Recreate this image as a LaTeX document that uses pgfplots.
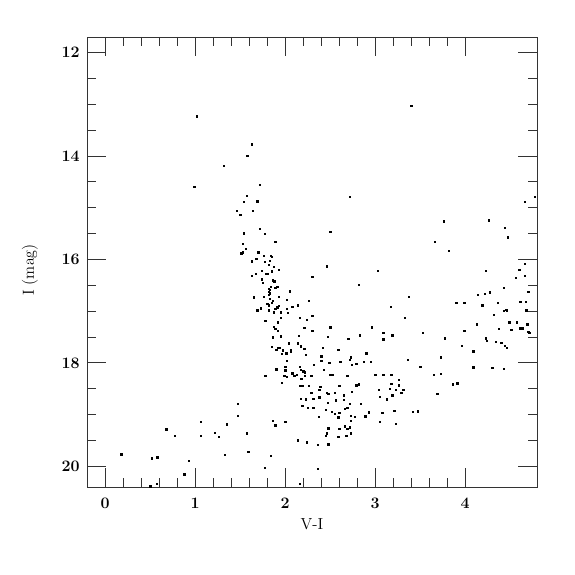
\documentclass[border=0pt]{standalone}
\usepackage{pgfplots}
\pgfplotsset{compat=1.18}
\begin{document}
\begin{tikzpicture}
\begin{axis}[
  width=337.5pt, height=337.5pt, scale only axis,
  xmin=-0.2, xmax=4.8, ymin=11.7, ymax=20.4,
  y dir=reverse,
  xtick={0,1,2,3,4}, ytick={12,14,16,18,20},
  minor x tick num=4, minor y tick num=3,
  tick align=inside, xtick pos=both, ytick pos=both,
  major tick length=14pt, minor tick length=7pt,
  axis line style={black!80, line width=0.6pt},
  every tick/.style={black!80, line width=0.6pt},
  ticklabel style={font=\large\boldmath},
  xticklabel style={yshift=-5pt},
  yticklabel style={xshift=-2pt},
  xlabel={V-I}, ylabel={I (mag)},
  every axis x label/.style={at={(axis description cs:0.5,-0.082)}, anchor=center, font=\large},
  every axis y label/.style={at={(axis description cs:-0.127,0.482)}, anchor=center, rotate=90, font=\large},
  clip=true,
]
\addplot[only marks, mark=square*, mark size=0.5pt, black, mark options={line width=0.1pt}] coordinates {
(1.02,13.23)(1.63,13.77)(1.58,13.99)(1.32,14.19)(0.99,14.59)(1.72,14.55)
(1.57,14.77)(1.54,14.88)(1.69,14.87)(1.46,15.05)(1.50,15.13)(1.64,15.05)
(1.54,15.49)(1.72,15.41)(1.77,15.50)(1.89,15.65)(1.53,15.70)(1.56,15.79)
(1.53,15.86)(1.51,15.88)(1.70,15.86)(1.76,15.92)(1.84,15.92)(1.85,15.94)(1.68,15.98)
(1.63,16.03)(1.77,16.04)(1.83,16.02)(1.82,16.10)(1.87,16.14)(1.93,16.19)
(1.74,16.22)(1.85,16.21)(1.85,16.24)(1.67,16.28)(1.63,16.31)(1.79,16.27)
(1.80,16.28)(2.30,16.33)(1.74,16.38)(1.86,16.40)(1.88,16.42)(1.75,16.45)
(1.84,16.52)(1.89,16.54)(1.91,16.52)(1.82,16.56)(1.83,16.58)(1.82,16.62)
(2.05,16.61)(1.83,16.65)(1.82,16.68)(1.65,16.73)(1.76,16.72)(1.83,16.76)
(1.86,16.79)(1.93,16.72)(2.02,16.78)(2.26,16.80)(1.80,16.86)(1.85,16.84)
(1.82,16.88)(1.93,16.89)(1.91,16.92)(1.89,16.95)(1.73,16.94)(1.69,16.98)
(2.14,16.88)(2.08,16.91)(2.02,16.95)(1.82,16.98)(1.87,17.02)(1.95,17.02)
(2.03,17.03)(2.16,17.12)(2.30,17.09)(1.95,17.13)(1.78,17.18)(1.92,17.21)
(2.24,17.16)(1.87,17.30)(2.21,17.32)(1.89,17.34)(1.92,17.37)(2.30,17.37)
(2.15,17.47)(1.95,17.48)(1.86,17.50)(2.14,17.62)(2.04,17.62)(2.17,17.66)
(2.17,17.69)(1.85,17.68)(1.92,17.71)(1.94,17.70)(1.90,17.74)(1.97,17.75)
(2.06,17.74)(2.06,17.77)(2.21,17.72)(1.96,17.82)(2.01,17.81)(2.23,17.84)
(2.02,17.95)(2.32,18.03)(2.00,18.07)(2.16,18.07)(1.90,18.12)(2.00,18.14)
(2.17,18.13)(2.20,18.16)(2.22,18.18)(2.08,18.20)(2.10,18.24)(2.13,18.22)
(1.99,18.24)(2.02,18.26)(1.78,18.25)(2.18,18.30)(2.22,18.25)(2.29,18.24)
(2.72,14.78)(2.50,15.46)(2.46,16.13)(2.82,16.48)(2.50,17.31)(2.47,17.49)
(2.70,17.53)(2.83,17.46)
(3.09,17.41)(3.19,17.46)(3.09,17.54)(2.42,17.71)(2.59,17.74)(2.90,17.81)
(2.40,17.87)(2.40,17.95)(2.49,18.00)(2.61,17.98)(2.73,17.89)(2.72,17.94)
(2.74,18.03)(2.79,18.01)(2.87,17.97)(2.95,17.97)(2.50,18.22)(2.53,18.22)
(2.43,18.13)(2.69,18.25)(3.00,18.22)(3.09,18.22)(3.18,18.22)(3.26,18.32)
(3.26,18.43)(3.18,18.40)(1.96,18.38)(2.16,18.44)(2.19,18.44)(2.26,18.44)
(2.39,18.46)(2.60,18.44)(2.79,18.43)(2.82,18.41)(2.74,18.55)(2.29,18.57)
(2.38,18.52)(2.46,18.57)(2.48,18.60)(2.55,18.58)(2.65,18.62)(3.04,18.51)
(3.16,18.50)(3.23,18.52)(3.19,18.62)(3.13,18.70)(3.05,18.65)(2.17,18.69)
(2.23,18.70)(2.31,18.69)(2.38,18.66)(2.47,18.77)(2.56,18.72)(2.65,18.71)
(2.72,18.79)(2.84,18.79)(2.19,18.83)(2.25,18.86)(2.31,18.86)(2.45,18.90)
(2.66,18.88)(2.69,18.86)(2.52,18.94)(2.60,18.96)(2.55,18.98)(2.73,19.02)
(2.77,19.04)(2.59,19.05)(2.37,19.04)(2.93,18.95)(2.89,19.03)(3.08,18.96)
(3.21,18.92)(3.05,19.14)(3.23,19.17)(2.73,19.11)(1.86,19.12)(1.89,19.20)
(2.00,19.14)(2.48,19.26)(2.66,19.22)(2.69,19.27)(2.72,19.24)(2.60,19.27)
(2.73,19.36)(2.46,19.36)(2.45,19.41)(2.59,19.42)(2.68,19.40)(2.14,19.49)
(2.24,19.53)(2.36,19.58)(2.48,19.57)(1.84,19.79)
(3.37,16.72)(3.17,16.91)(3.33,17.13)(2.96,17.31)(3.53,17.42)(3.77,17.52)
(3.36,17.93)(3.50,18.07)(3.73,17.89)(3.96,17.66)(4.09,17.77)(4.09,18.08)
(4.30,18.09)(4.43,18.11)(3.65,18.22)(3.73,18.21)(3.90,16.84)(3.99,16.84)
(4.14,16.68)(4.22,16.66)(4.27,16.63)(4.43,16.55)(4.70,16.62)(4.19,16.88)
(4.36,16.84)(4.61,16.81)(4.67,16.81)(4.32,17.06)(4.43,16.99)(4.45,16.97)
(4.46,16.98)(4.68,16.98)(4.13,17.25)(4.49,17.21)(4.57,17.21)(4.69,17.25)
(3.99,17.37)(4.37,17.34)(4.51,17.36)(4.61,17.33)(4.64,17.33)(4.70,17.40)
(4.71,17.42)(4.23,17.52)(4.24,17.57)(4.34,17.59)(4.40,17.61)(4.44,17.66)
(4.46,17.70)(3.31,18.52)(3.29,18.58)(3.42,18.94)(3.47,18.93)(3.69,18.60)
(3.86,18.41)(3.91,18.39)
(4.66,14.88)(4.77,14.79)(3.76,15.26)(4.26,15.24)(4.44,15.39)(4.47,15.57)
(3.66,15.65)(3.82,15.83)(3.03,16.22)(4.23,16.21)(4.66,16.08)(4.60,16.20)
(4.66,16.31)(4.56,16.35)(3.40,13.03)
(0.18,19.76)(0.52,19.84)(0.58,19.82)(0.68,19.28)(0.77,19.41)(0.57,20.33)
(0.50,20.38)(0.88,20.15)(0.93,19.89)(1.06,19.14)(1.06,19.40)(1.22,19.35)
(1.26,19.43)(1.35,19.18)(1.47,18.79)(1.47,19.02)(1.57,19.36)(1.59,19.71)
(1.33,19.77)(1.77,20.03)(2.16,20.33)(2.36,20.04)
};
\end{axis}
\path (current axis.south west) ++(-65.25pt,-66pt);
\path (current axis.north east) ++(28.5pt,27.75pt);
\end{tikzpicture}
\end{document}
